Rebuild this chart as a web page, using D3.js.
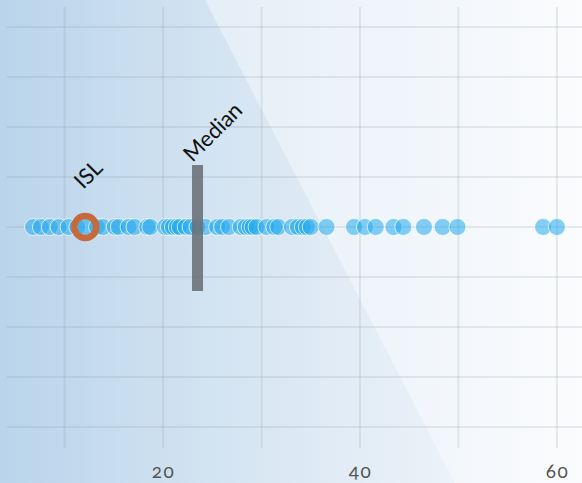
<!DOCTYPE html>
<html><head><meta charset="utf-8">
<script src="https://cdn.jsdelivr.net/npm/d3@7"></script>
<style>
html,body{margin:0;padding:0;background:#fff;}
svg{display:block;}
text{font-family:Lato,"Open Sans",sans-serif;}
</style></head><body>
<svg id="c" width="582" height="483"></svg>
<script>
// Data
const values = [6.8,7.6,8.5,9.4,10.4,11.3,12.1,13.3,13.9,15.1,15.5,16.5,17.1,18.4,18.7,20.2,20.6,21.0,21.4,21.7,22.3,22.8,23.5,24.3,25.5,26.0,26.7,27.9,28.4,28.8,29.1,29.5,30.5,31.3,31.7,33.1,33.7,34.2,34.6,35.0,36.6,39.4,40.5,41.6,43.4,44.4,46.5,48.4,49.9,58.6,60.0];
const highlightLabel = "ISL";
const highlightValue = 12.1;
const medianLabel = "Median";
const medianValue = 23.5;
const xTicks = [10,20,30,40,50,60];
const xTickLabels = [20,40,60];
const yRows = [0,1,2,3,4,5,6,7,8];
const dotRow = 4;

const W=582,H=483;
const svg=d3.select("#c");
const defs=svg.append("defs");
const lg=defs.append("linearGradient").attr("id","bg").attr("x1","0").attr("x2","1").attr("y1","0").attr("y2","0");
lg.append("stop").attr("offset","0").attr("stop-color","#b9d4eb");
lg.append("stop").attr("offset","0.45").attr("stop-color","#d9e7f3");
lg.append("stop").attr("offset","1").attr("stop-color","#f8fafd");
svg.append("rect").attr("width",W).attr("height",H).attr("fill","url(#bg)");
svg.append("path").attr("d",`M205,0 L${W},0 L${W},${H} L455,${H} Z`).attr("fill","#ffffff").attr("opacity",0.4);

const x=d3.scaleLinear().domain([4.15,62.55]).range([7,582]);
const y=d3.scalePoint().domain(yRows).range([27,427]);

const grid=svg.append("g");
grid.selectAll("line.h").data(yRows).join("line").attr("class","h")
  .attr("x1",7).attr("x2",W).attr("y1",d=>y(d)).attr("y2",d=>y(d))
  .attr("stroke","#828c96").attr("stroke-opacity",0.17).attr("stroke-width",2);
grid.selectAll("line.v").data(xTicks).join("line").attr("class","v")
  .attr("x1",d=>x(d)).attr("x2",d=>x(d)).attr("y1",7).attr("y2",448)
  .attr("stroke","#828c96").attr("stroke-opacity",0.17).attr("stroke-width",2);

// axis labels
const ax=svg.append("g").attr("transform","translate(0,448)")
  .call(d3.axisBottom(x).tickValues(xTickLabels).tickSize(0).tickPadding(17).tickFormat(d3.format("d")));
ax.select(".domain").remove();
ax.selectAll("text").attr("font-size",19).attr("fill","#555").attr("font-family","Lato,sans-serif")
  .style("font-variant-numeric","oldstyle-nums").style("letter-spacing","1.5px");

// dots
svg.append("g").selectAll("circle").data(values).join("circle")
  .attr("cx",d=>x(d)).attr("cy",y(dotRow)).attr("r",8.5)
  .attr("fill","#22aaee").attr("fill-opacity",0.55)
  .attr("stroke","#ffffff").attr("stroke-opacity",0.7).attr("stroke-width",1);

// median bar
svg.append("rect").attr("x",x(medianValue)-5.5).attr("width",11)
  .attr("y",165).attr("height",126).attr("fill","#6c7278").attr("opacity",0.9);

// highlight ring
svg.append("circle").attr("cx",x(highlightValue)).attr("cy",y(dotRow)).attr("r",11)
  .attr("fill","none").attr("stroke","#c8693a").attr("stroke-width",6.5);

// labels
svg.append("text").attr("transform",`translate(${x(highlightValue)-2},190) rotate(-45)`)
  .attr("font-size",22).attr("fill","#111").text(highlightLabel);
svg.append("text").attr("transform",`translate(${x(medianValue)-5},163) rotate(-45)`)
  .attr("font-size",22).attr("fill","#111").text(medianLabel);
</script></body></html>
